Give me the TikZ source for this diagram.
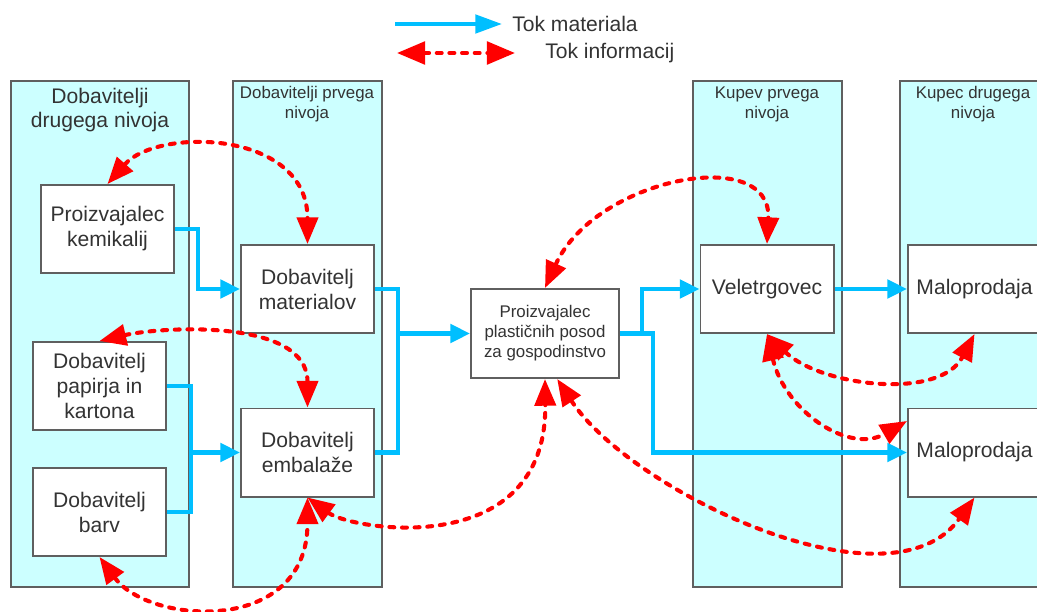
\documentclass[tikz,border=0pt]{standalone}
\usepackage{fontspec}
\setmainfont{Liberation Sans}
\usetikzlibrary{arrows.meta}

\definecolor{panel}{RGB}{204,255,255}
\definecolor{edgegray}{RGB}{95,95,95}
\definecolor{flowblue}{RGB}{0,191,255}
\definecolor{flowred}{RGB}{255,0,0}
\definecolor{txt}{RGB}{51,51,51}

\tikzset{
	level/.style={draw=edgegray, line width=1.4pt, fill=panel},
	box/.style={draw=edgegray, line width=1.4pt, fill=white, text=txt, align=center,
		minimum width=3.325cm, minimum height=2.2cm, inner sep=2pt,
		font=\fontsize{15}{17.8}\selectfont},
	bighead/.style={text=txt, align=center, font=\fontsize{15}{17}\selectfont},
	smallhead/.style={text=txt, align=center, font=\fontsize{12}{14.2}\selectfont},
	matflow/.style={draw=flowblue, line width=2.9pt, -{Triangle[length=14pt,width=13pt]}},
	infoflow/.style={draw=flowred, line width=2.9pt, line cap=round, dash pattern=on 3.5pt off 5.5pt,
		{Triangle[length=19pt,width=15pt]}-{Triangle[length=19pt,width=15pt]}}
}

\begin{document}
\begin{tikzpicture}[x=0.025cm, y=-0.025cm]
		\useasboundingbox (0,0) rectangle (1037,611);
		\clip (0,0) rectangle (1037,611);
		
		%%%%% columns %%%%%
		\draw[level] (11,81) rectangle (189,587);
		\draw[level] (233,81) rectangle (382,587);
		\draw[level] (693,81) rectangle (842,587);
		\draw[level] (900,81) rectangle (1060,587);
		
		\node[bighead] (h1) at (100,110) {Dobavitelji\\drugega nivoja};
		\node[smallhead] (h2) at (307,104) {Dobavitelji prvega\\nivoja};
		\node[smallhead] (h3) at (767,104) {Kupev prvega\\nivoja};
		\node[smallhead] (h4) at (973,104) {Kupec drugega\\nivoja};
		
		%%%%% boxes %%%%%
		\node[box] (kem) at (107.5,229) {Proizvajalec\\kemikalij};
		\node[box] (pap) at (99.5,386) {Dobavitelj\\papirja in\\kartona};
		\node[box] (barv) at (99.5,512) {Dobavitelj\\barv};
		\node[box] (mat) at (307.5,289) {Dobavitelj\\materialov};
		\node[box] (emb) at (307.5,452.5) {Dobavitelj\\embalaže};
		\node[box, minimum width=3.7cm, minimum height=2.225cm, font=\fontsize{12}{14.2}\selectfont]
			(proiz) at (545,333.5) {Proizvajalec\\plastičnih posod\\za gospodinstvo};
		\node[box] (velet) at (767,289) {Veletrgovec};
		\node[box] (malo1) at (974.5,289) {Maloprodaja};
		\node[box] (malo2) at (974.5,452.5) {Maloprodaja};
		
		%%%%% material flow %%%%%
		\draw[matflow] (kem.east) -- ++(23,0) |- (mat.west);
		\draw[matflow,-] (pap.east) -- ++(24,0) coordinate (pj) |- (barv.east);
		\draw[matflow] (pj |- emb.west) -- (emb.west);
		\draw[matflow,-] (mat.east) -- ++(23,0) coordinate (mj) |- (emb.east);
		\draw[matflow] (mj |- proiz.west) -- (proiz.west);
		\draw[matflow] (proiz.east) -- ++(22,0) coordinate (pk) |- (velet.west);
		\draw[matflow] (pk) -- ++(11,0) |- (malo2.west);
		\draw[matflow] (velet.east) -- (malo1.west);
		
		%%%%% information flow %%%%%
		\draw[infoflow] (kem.north) .. controls +(50,-57) and +(0,-114) .. (mat.north);
		\draw[infoflow] (pap.north) .. controls +(60,-14) and +(0,-90) .. (emb.north);
		\draw[infoflow] (barv.south) .. controls +(50,68) and +(0,138) .. (emb.south);
		\draw[infoflow] (emb.south) .. controls +(45,33) and +(2,182) .. (proiz.south);
		\draw[infoflow] (proiz.north) .. controls +(50,-110) and +(5,-100) .. (velet.north);
		\draw[infoflow] (velet.south) .. controls +(53,52) and +(-35,67) .. (malo1.south);
		\draw[infoflow] (velet.south) .. controls +(18,77) and +(-58,33.5) .. (malo2.155);
		\draw[infoflow] (proiz.-75) .. controls +(73,112) and +(-84.5,118) .. (malo2.south);
		
		%%%%% legend %%%%%
		\coordinate (lmA) at (395,24);
		\coordinate (lmB) at (502,24);
		\coordinate (liA) at (397,53);
		\coordinate (liB) at (515,53);
		\draw[matflow, -{Triangle[length=19pt,width=13pt]}] (lmA) -- (lmB);
		\draw[infoflow, {Triangle[length=20pt,width=16pt]}-{Triangle[length=20pt,width=16pt]}] (liA) -- (liB);
		\node[bighead, anchor=west, inner sep=0pt] (ltm) at (512,24) {Tok materiala};
		\node[bighead, anchor=west, inner sep=0pt] (lti) at (545,53) {Tok informacij};
\end{tikzpicture}
\end{document}
